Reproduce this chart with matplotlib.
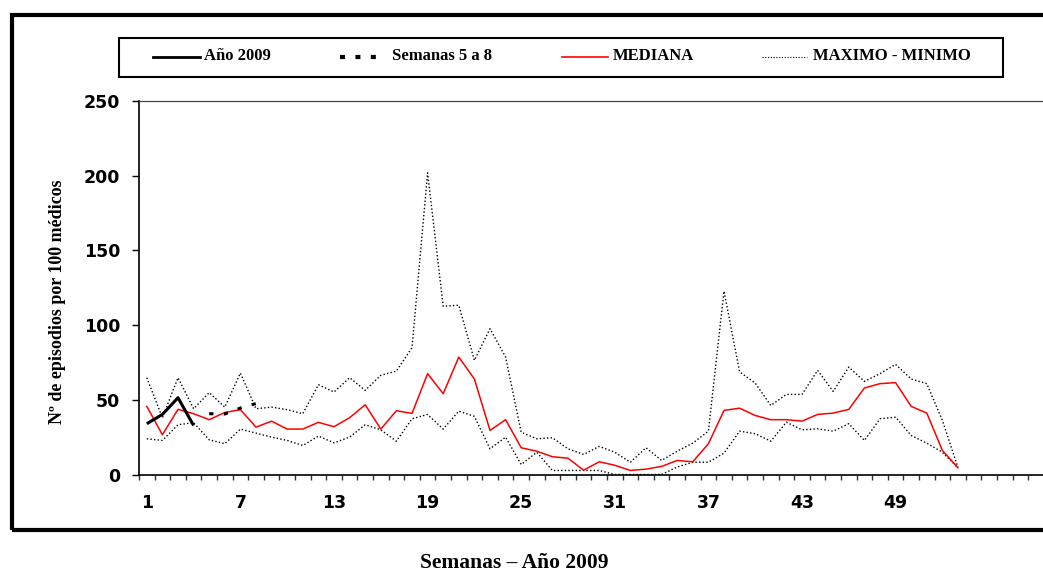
import numpy as np
import matplotlib.pyplot as plt
from matplotlib.lines import Line2D
from matplotlib.patches import Rectangle

# Semanas con serie histórica (mediana y banda máximo-mínimo)
semanas = np.arange(1, 54)
mediana = [45.6, 26.6, 43.6, 40.7, 36.7, 41.5, 43.4, 31.7, 35.7, 30.4,
           30.4, 34.9, 32.0, 38.0, 46.7, 30.4, 42.7, 40.9, 67.5, 54.1,
           78.6, 63.9, 29.5, 36.7, 17.9, 15.6, 11.9, 10.9, 2.9, 8.5,
           6.2, 2.7, 3.6, 5.4, 9.4, 8.5, 20.6, 42.9, 44.4, 39.5,
           36.7, 36.7, 35.7, 40.2, 41.1, 43.6, 57.9, 60.8, 61.5, 45.6,
           41.1, 16.1, 4.5]
maximo = [64.8, 38.0, 64.8, 44.0, 54.8, 45.1, 67.9, 44.0, 45.1, 43.4,
          40.7, 60.1, 55.2, 64.8, 56.3, 66.4, 69.2, 84.9, 201.9, 112.6,
          113.3, 76.4, 97.6, 78.6, 28.3, 23.9, 24.6, 17.2, 13.4, 18.8,
          14.9, 8.2, 17.9, 9.4, 15.6, 21.0, 29.0, 122.7, 68.7, 61.2,
          46.2, 53.6, 53.6, 69.7, 55.6, 71.9, 62.3, 67.5, 73.7, 63.9,
          60.8, 36.2, 4.5]
minimo = [23.9, 22.8, 33.3, 34.7, 23.2, 20.6, 30.4, 27.7, 25.0, 22.8,
          19.4, 25.7, 21.2, 25.0, 33.3, 29.9, 22.3, 37.3, 40.2, 30.4,
          42.4, 38.9, 17.2, 25.0, 6.7, 14.9, 2.7, 2.7, 2.7, 2.7,
          0.0, 0.0, 0.0, 0.0, 5.0, 8.2, 8.2, 14.3, 29.0, 27.3,
          22.3, 35.0, 29.9, 30.6, 29.0, 34.0, 22.8, 37.3, 38.4, 26.1,
          21.0, 14.9, 4.5]

# Temporada actual
semanas_2009 = [1, 2, 3, 4]
casos_2009 = [34.0, 40.2, 51.4, 32.8]
semanas_5a8 = [5, 6, 7, 8]
casos_5a8 = [40.7, 40.5, 44.5, 47.5]

n_categorias = 60
etiquetas_x = list(range(1, 50, 6))
ticks_y = [0, 50, 100, 150, 200, 250]

W, H = 1043, 575


def fx(px):
    return px / W


def fy(py):
    return 1 - py / H


fig = plt.figure(figsize=(W / 100, H / 100), dpi=100)
ancho_cat = 15.6
ax = fig.add_axes([fx(139), fy(474.5), ancho_cat * n_categorias / W, (474.5 - 101) / H])

ax.plot(semanas, maximo, color='black', lw=1.0, ls=(0, (1, 1.6)))
ax.plot(semanas, minimo, color='black', lw=1.0, ls=(0, (1, 1.6)))
ax.plot(semanas, mediana, color='#ff0000', lw=1.1)
ax.plot(semanas_2009, casos_2009, color='black', lw=2.2, solid_capstyle='butt')
ax.plot(semanas_5a8, casos_5a8, color='black', lw=2.2, ls=(0, (1.4, 3.4)))

ax.set_xlim(0.5, n_categorias + 0.5)
ax.set_ylim(0, 250)

fuente_ejes = {'family': 'DejaVu Sans', 'weight': 'bold', 'size': 12.5}

# ticks en los bordes de cada categoría, etiquetas centradas
ax.set_xticks(np.arange(0.5, n_categorias + 1, 1))
ax.set_xticklabels([])
ax.set_xticks(etiquetas_x, minor=True)
ax.set_xticklabels([str(e) for e in etiquetas_x], minor=True, fontdict=fuente_ejes)
ax.tick_params(axis='x', which='major', direction='out', length=3.6, width=1.0, color='#333333')
ax.tick_params(axis='x', which='minor', length=0, pad=14)

ax.set_yticks(ticks_y)
ax.set_yticklabels([str(t) for t in ticks_y], fontdict=fuente_ejes)
ax.tick_params(axis='y', direction='out', length=5, width=1.0, pad=8.5)

ax.spines['left'].set_linewidth(1.2)
ax.spines['bottom'].set_linewidth(1.2)
ax.spines['top'].set_linewidth(0.9)
ax.spines['top'].set_color('#444444')
ax.spines['right'].set_visible(False)

# marco exterior
fig.add_artist(Rectangle((fx(12), fy(530)), fx(1100) - fx(12), fy(15) - fy(530),
                         transform=fig.transFigure, fill=False, lw=3, ec='black'))

# leyenda
fig.add_artist(Rectangle((fx(119), fy(77)), fx(1003) - fx(119), fy(37.5) - fy(77),
                         transform=fig.transFigure, fill=False, lw=1.5, ec='black'))
y_ley = fy(56.5)
serif = {'family': 'Liberation Serif', 'weight': 'bold', 'size': 12}
fig.add_artist(Line2D([fx(153), fx(200)], [y_ley, y_ley], color='black', lw=2.0,
                      transform=fig.transFigure))
fig.text(fx(204), y_ley, 'Año 2009', ha='left', va='center', fontdict=serif)
fig.add_artist(Line2D([fx(340), fx(378)], [y_ley, y_ley], color='black', lw=3.0,
                      ls=(0, (1.2, 2.5)), transform=fig.transFigure))
fig.text(fx(392), y_ley, 'Semanas 5 a 8', ha='left', va='center', fontdict=serif)
fig.add_artist(Line2D([fx(562), fx(608)], [y_ley, y_ley], color='#ff0000', lw=1.2,
                      transform=fig.transFigure))
fig.text(fx(613), y_ley, 'MEDIANA', ha='left', va='center', fontdict=serif)
fig.add_artist(Line2D([fx(762), fx(807)], [y_ley, y_ley], color='black', lw=0.8,
                      ls=(0, (1, 1.5)), transform=fig.transFigure))
fig.text(fx(813), y_ley, 'MAXIMO - MINIMO', ha='left', va='center', fontdict=serif)

fig.text(fx(58), fy(302), 'Nº de episodios por 100 médicos', rotation=90,
         ha='center', va='center', fontdict={'family': 'Liberation Serif', 'weight': 'bold', 'size': 13})
fig.text(fx(514), fy(563), 'Semanas – Año 2009', ha='center', va='center',
         fontdict={'family': 'Liberation Serif', 'weight': 'bold', 'size': 15.5})

fig.savefig('out.png', dpi=100)
